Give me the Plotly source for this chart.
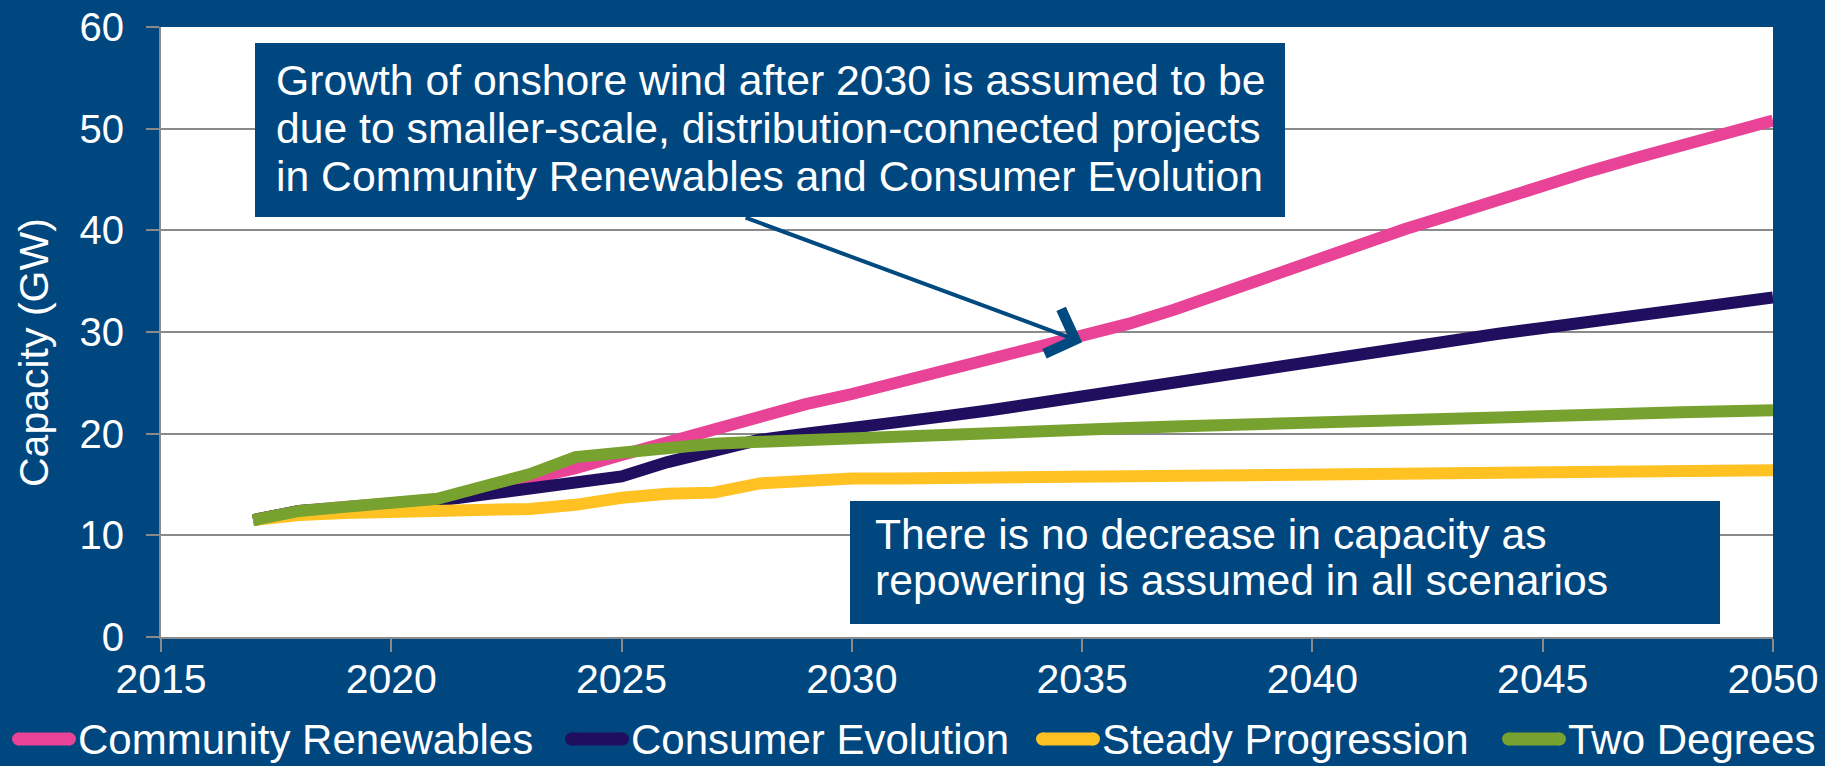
import plotly.graph_objects as go

years = list(range(2017, 2051))

community_renewables = [11.5, 12.4, 12.8, 13.1, 13.5, 14.5, 15.4, 16.6, 17.9, 19.2,
                        20.5, 21.8, 22.9, 23.9, 25.0, 26.2, 27.3, 28.3, 29.5, 30.8,
                        32.2, 33.8, 35.4, 37.1, 38.8, 40.1, 41.5, 43.0, 44.4, 45.8,
                        47.1, 48.4, 49.6, 50.8]
consumer_evolution = [11.5, 12.4, 12.7, 13.0, 13.4, 14.0, 14.6, 15.4, 15.8, 17.2,
                      18.4, 19.4, 20.0, 20.5, 21.0, 21.7, 22.3, 23.0, 23.6, 24.3,
                      25.0, 25.8, 26.6, 27.3, 28.0, 28.6, 29.2, 29.8, 30.4, 31.0,
                      31.6, 32.2, 32.8, 33.4]
steady_progression = [11.5, 12.0, 12.2, 12.3, 12.4, 12.55, 12.6, 13.0, 13.7, 14.1,
                      14.2, 15.1, 15.4, 15.6, 15.6, 15.65, 15.7, 15.75, 15.8, 15.85,
                      15.9, 15.95, 16.0, 16.0, 16.05, 16.1, 16.15, 16.2, 16.2, 16.25,
                      16.3, 16.3, 16.35, 16.4]
two_degrees = [11.5, 12.4, 12.8, 13.1, 13.6, 14.8, 16.0, 17.7, 18.1, 18.7,
               19.0, 19.2, 19.4, 19.5, 19.7, 19.9, 20.0, 20.2, 20.4, 20.55,
               20.7, 20.85, 21.0, 21.1, 21.25, 21.4, 21.5, 21.65, 21.8, 21.9,
               22.0, 22.1, 22.2, 22.3]

series_names = ["Community Renewables", "Consumer Evolution", "Steady Progression", "Two Degrees"]
series_values = [community_renewables, consumer_evolution, steady_progression, two_degrees]
series_colors = ["#E84396", "#1F0F5E", "#FFC222", "#78A22F"]

x_ticks = [2015, 2020, 2025, 2030, 2035, 2040, 2045, 2050]
y_ticks = [0, 10, 20, 30, 40, 50, 60]

note_top = ["Growth of onshore wind after 2030 is assumed to be",
            "due to smaller-scale, distribution-connected projects",
            "in Community Renewables and Consumer Evolution"]
note_bottom = ["There is no decrease in capacity as",
               "repowering is assumed in all scenarios"]

BG = "#00477F"
GRID = "#8A8A8A"
FONT = "Liberation Sans, Arial, sans-serif"

W, H = 1825, 766
L, R, T, B = 161, 52, 27, 129
PW, PH = W - L - R, H - T - B


def px(xpix):
    return (xpix - L) / PW


def py(ypix):
    return (H - B - ypix) / PH


fig = go.Figure()
for name, vals, col in zip(series_names, series_values, series_colors):
    fig.add_trace(go.Scatter(x=years, y=vals, name=name, mode="lines",
                             line=dict(color=col, width=12), showlegend=False))

shapes = [
    dict(type="rect", xref="paper", yref="paper", x0=px(255), x1=px(1285),
         y0=py(217), y1=py(43), fillcolor=BG, line=dict(width=0), layer="above"),
    dict(type="rect", xref="paper", yref="paper", x0=px(850), x1=px(1720),
         y0=py(624), y1=py(501), fillcolor=BG, line=dict(width=0), layer="above"),
]

annotations = []
for i, t in enumerate(note_top):
    annotations.append(dict(text=t, xref="paper", yref="paper", x=px(274), y=py(80 + 48 * i),
                            xanchor="left", yanchor="middle", showarrow=False,
                            font=dict(family=FONT, size=42.7, color="white")))
for i, t in enumerate(note_bottom):
    annotations.append(dict(text=t, xref="paper", yref="paper", x=px(873), y=py(534 + 46 * i),
                            xanchor="left", yanchor="middle", showarrow=False,
                            font=dict(family=FONT, size=42.7, color="white")))
# arrow
annotations.append(dict(text="", x=2035, y=29.0, xref="x", yref="y",
                        ax=2027.66, ay=41.3, axref="x", ayref="y",
                        showarrow=True, arrowhead=4, arrowsize=2.3, arrowwidth=4,
                        arrowcolor="#004A80", standoff=0))
# y-axis title
annotations.append(dict(text="Capacity (GW)", xref="paper", yref="paper", x=px(34), y=py(353),
                        xanchor="center", yanchor="middle", textangle=-90, showarrow=False,
                        font=dict(family=FONT, size=41, color="white")))

# legend (drawn as swatch + label per series)
legend_swatch_x = [12, 565, 1036, 1502]
legend_y = 739
for name, col, sx in zip(series_names, series_colors, legend_swatch_x):
    shapes.append(dict(type="line", xref="paper", yref="paper",
                       x0=px(sx + 6), x1=px(sx + 58), y0=py(legend_y), y1=py(legend_y),
                       line=dict(color=col, width=13)))
    shapes.append(dict(type="circle", xref="paper", yref="paper",
                       x0=px(sx), x1=px(sx + 13), y0=py(legend_y + 6.5), y1=py(legend_y - 6.5),
                       fillcolor=col, line=dict(width=0)))
    shapes.append(dict(type="circle", xref="paper", yref="paper",
                       x0=px(sx + 51), x1=px(sx + 64), y0=py(legend_y + 6.5), y1=py(legend_y - 6.5),
                       fillcolor=col, line=dict(width=0)))
    annotations.append(dict(text=name, xref="paper", yref="paper", x=px(sx + 64), y=py(legend_y),
                            xanchor="left", yanchor="middle", showarrow=False,
                            font=dict(family=FONT, size=42, color="white")))

fig.update_layout(
    width=W, height=H,
    margin=dict(l=L, r=R, t=T, b=B, autoexpand=False),
    paper_bgcolor=BG, plot_bgcolor="white",
    font=dict(family=FONT, color="white", size=41),
    shapes=shapes, annotations=annotations,
    showlegend=False,
    xaxis=dict(range=[2015, 2050], tickvals=x_ticks, ticktext=[str(v) for v in x_ticks],
               showgrid=False, zeroline=False, showline=True, linecolor=GRID, linewidth=2,
               ticks="outside", ticklen=13, tickcolor=GRID, tickwidth=2,
               tickfont=dict(size=41, color="white"), ticklabelstandoff=-8),
    yaxis=dict(range=[0, 60], tickvals=y_ticks, showgrid=True, gridcolor=GRID, gridwidth=2,
               zeroline=False, showline=True, linecolor=GRID, linewidth=2,
               ticks="outside", ticklen=13, tickcolor=GRID, tickwidth=2,
               tickfont=dict(size=40, color="white"), ticklabelstandoff=14),
)

fig.write_html("out.html", config={"displayModeBar": False},
               post_script="document.body.style.margin='0';document.body.style.overflow='hidden';")
